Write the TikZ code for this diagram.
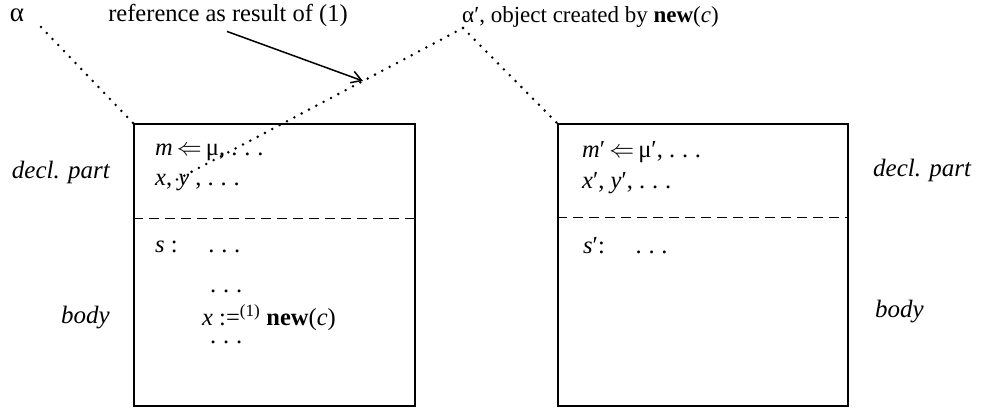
\documentclass[tikz,border=0pt]{standalone}
\usepackage{fontspec}
\setmainfont{Liberation Serif}
\usetikzlibrary{arrows.meta}
\newcommand{\mydots}{.\kern0.28em.\kern0.28em.}
\begin{document}
\begin{tikzpicture}[x=1pt,y=-1pt,
  lbl/.style={font=\fontsize{23}{27}\selectfont, inner sep=0pt},
  side/.style={font=\fontsize{25}{30}\selectfont\itshape, inner sep=0pt},
  code/.style={font=\fontsize{24.5}{28}\selectfont, inner sep=0pt, anchor=west},
  objbox/.style={draw, line width=1.5pt, inner sep=0pt},
  dots/.style={line width=2.8pt, line cap=round, dash pattern=on 0pt off 8.3pt},
  sep/.style={line width=1.4pt, dash pattern=on 10pt off 6pt},
  arr/.style={line width=1.5pt, -{Straight Barb[length=10pt,width=12pt,line width=1.5pt]}}]
\useasboundingbox (0,0) rectangle (989,408);
% boxes
\node[objbox, minimum width=281pt, minimum height=282pt] (L) at (274.5,265) {};
\node[objbox, minimum width=290pt, minimum height=282pt] (R) at (703,265) {};
\draw[sep] ([yshift=-95pt]L.north west) -- ([yshift=-95pt]L.north east);
\draw[sep] ([yshift=-94pt]R.north west) -- ([yshift=-94pt]R.north east);
% top labels
\node[lbl, font=\fontsize{27}{30}\selectfont] (alpha) at (17,15) {α};
\node[lbl, font=\fontsize{24.5}{28}\selectfont] (ref) at (228,15) {reference as result of (1)};
\node[lbl, anchor=west] (alphap) at (462,17) {α′, object created by \textbf{new}(\textit{c})};
% dotted connectors
\coordinate (a1) at (41,27);
\coordinate (apex) at (463,28);
\coordinate (inL) at (176,180);
\coordinate (hit) at (363,81);
\draw[dots] (a1) -- (L.north west);
\draw[dots] (apex) -- (inL);
\draw[dots] (apex) -- (R.north west);
\draw[arr] ([xshift=-1pt,yshift=-5pt]ref.south) -- (hit);
% side labels
\node[side, anchor=east] (dl) at (110,172) {decl. part};
\node[side, anchor=east] (bl) at (110,318) {body};
\node[side, anchor=west] (dr) at (873,170) {decl. part};
\node[side, anchor=west] (br) at (875,312) {body};
% left box content
\node[code] (m1) at (155,152) {\textit{m}\,$\Leftarrow$\,μ, \mydots};
\node[code] (x1) at (155,183) {\textit{x}, \textit{y} , \mydots};
\node[code] (s1) at (155,247) {\textit{s} :\quad\ \mydots};
\node[code] (d1) at (210,291) {\mydots};
\node[code] (n1) at (202,318) {\textit{x} :=\textsuperscript{(1)} \textbf{new}(\textit{c})};
\node[code] (d2) at (210,342) {\mydots};
% right box content
\node[code] (m2) at (582,152) {\textit{m}′\,$\Leftarrow$\,μ′, \mydots};
\node[code] (x2) at (582,183) {\textit{x}′, \textit{y}′, \mydots};
\node[code] (s2) at (583,246) {\textit{s}′:\quad\ \mydots};
\end{tikzpicture}
\end{document}
